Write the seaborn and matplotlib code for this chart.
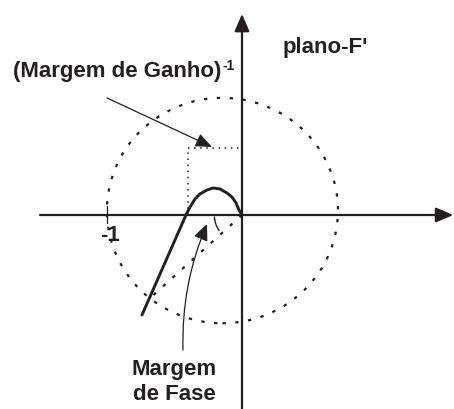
import numpy as np
import matplotlib
matplotlib.use("Agg")
import matplotlib.pyplot as plt
import matplotlib.patches as mpatches
import seaborn as sns

nyq_re = [-0.741, -0.415, -0.385, -0.348, -0.311, -0.259, -0.215, -0.163,
          -0.111, -0.074, -0.044, -0.022, 0.0]
nyq_im = [-0.741, 0.0, 0.059, 0.119, 0.156, 0.185, 0.200, 0.193,
          0.163, 0.133, 0.089, 0.037, 0.0]

# circulo tracejado (centro, raios)
circ_center = (-0.145, 0.033)
circ_rx, circ_ry = 0.856, 0.835

# ponto 1/MG e ponto de cruzamento com o circulo
gm_point = (-0.4, 0.496)
pm_point = (-0.681, -0.615)
pm_angles = (183, 215)

# eixos
x_range = (-1.496, 1.565)
y_range = (-1.44, 1.49)

ink = "#231f20"

sns.set_style("white")
plt.rcParams["font.family"] = ["Liberation Sans", "DejaVu Sans"]

fig = plt.figure(figsize=(4.54, 4.09), dpi=100)
ax = fig.add_axes([0, 0, 1, 1])
ax.set_xlim(-242 / 135, 212 / 135)
ax.set_ylim(-194 / 135, 215 / 135)
ax.axis("off")

# eixos com setas
head = "-|>,head_length=1.05,head_width=0.45"
ax.annotate("", xy=(x_range[1], 0), xytext=(x_range[0], 0),
            arrowprops=dict(arrowstyle=head, lw=1.6, color=ink,
                            shrinkA=0, shrinkB=0, mutation_scale=10),
            annotation_clip=False)
ax.annotate("", xy=(0, y_range[1]), xytext=(0, y_range[0]),
            arrowprops=dict(arrowstyle=head, lw=1.6, color=ink,
                            shrinkA=0, shrinkB=0, mutation_scale=10),
            annotation_clip=False)
ax.plot([-1, -1], [-0.06, 0.07], color=ink, lw=0.9)

# circulo
ax.add_patch(mpatches.Ellipse(circ_center, 2 * circ_rx, 2 * circ_ry, fill=False,
                              edgecolor=ink, lw=1.6, linestyle=(0, (1.5, 4.3))))

# retangulo pontilhado de 1/MG
ax.plot([gm_point[0], gm_point[0]], [0, gm_point[1]], color=ink, lw=1.1,
        linestyle=(0, (1, 3)))
ax.plot([gm_point[0], 0], [gm_point[1], gm_point[1]], color=ink, lw=1.1,
        linestyle=(0, (1, 3)))

# linha da margem de fase
ax.plot([0, pm_point[0]], [0, pm_point[1]], color=ink, lw=1.6,
        linestyle=(0, (1.5, 4.3)))
ax.add_patch(mpatches.Arc((0, 0), 0.41, 0.41, theta1=pm_angles[0],
                          theta2=pm_angles[1], color=ink, lw=1.0))

# curva
sns.lineplot(x=nyq_re, y=nyq_im, sort=False, estimator=None, color=ink,
             lw=2.1, ax=ax)

# setas das legendas
ax.annotate("", xy=(-0.222, 0.504), xytext=(-1.0, 0.867),
            arrowprops=dict(arrowstyle="-|>,head_length=1.0,head_width=0.42",
                            lw=0.9, color=ink, shrinkA=0, shrinkB=0,
                            mutation_scale=10))
ax.annotate("", xy=(-0.259, -0.067), xytext=(-0.437, -1.0),
            arrowprops=dict(arrowstyle="-|>,head_length=1.0,head_width=0.45",
                            lw=0.9, color=ink, shrinkA=0, shrinkB=0,
                            mutation_scale=10,
                            connectionstyle="arc3,rad=-0.11"))

# textos
tk = dict(color=ink, fontweight="bold", fontsize=16)
gm_txt = ax.text(-1.696, 1.022, "(Margem de Ganho)", ha="left", va="baseline", **tk)
ax.annotate("-1", xy=(1, 1), xycoords=gm_txt, xytext=(0.5, 1.5),
            textcoords="offset points", ha="left", va="top", color=ink,
            fontweight="bold", fontsize=10)
ax.text(0.304, 1.20, "plano-F'", ha="left", va="baseline", **tk)
ax.text(-0.978, -0.193, "-1", ha="center", va="baseline", **tk)
ax.text(-0.504, -1.185, "Margem", ha="center", va="baseline", **tk)
ax.text(-0.504, -1.37, "de Fase", ha="center", va="baseline", **tk)

fig.savefig("out.png", dpi=100)
